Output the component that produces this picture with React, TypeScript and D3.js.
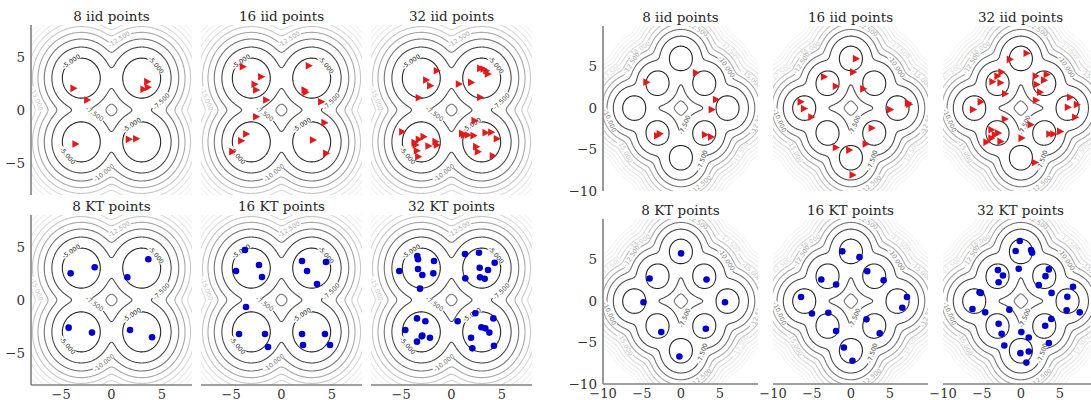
import React, { useMemo } from "react";
import * as d3 from "d3";

// unit-variance gaussian mixtures
const leftCenters: [number, number][] = [[-3, 3], [3, 3], [-3, -3], [3, -3]];
const rightCenters: [number, number][] = [
  [0, 6], [-3, 3], [3, 3], [-6, 0], [6, 0], [-3, -3], [3, -3], [0, -6],
];

const levels = [-5, -7.5, -10, -12.5, -15, -17.5, -20, -22.5, -25, -27.5];

const titles = ["8 iid points", "16 iid points", "32 iid points", "8 KT points", "16 KT points", "32 KT points"];

const leftTicks = [-5, 0, 5];
const rightTicks = [-10, -5, 0, 5];

type P = [number, number];

const leftIid8: P[] = [[-3.73, 2.04], [-2.37, 0.94], [3.6, 2.67], [3.66, 2.13], [3.23, 1.95], [-3.53, -3.2], [1.77, -2.76], [2.5, -2.7]];
const leftIid16: P[] = [
  [-3.8, 4.08], [-1.97, 3.13], [-2.63, 2.42], [-2.47, 1.88], [-1.47, 0.94], [-2.47, -0.63], [-3.46, -2.26], [-3.96, -2.89],
  [-4.85, -3.92], [2.76, 4.17], [2.34, 1.88], [2.44, 1.66], [3.99, 0.78], [4.32, -1.19], [3.18, -2.82], [4.49, -4.08],
];
const leftIid32: P[] = [
  [-1.41, 3.7], [-2.47, 2.82], [-2.07, 2.29], [-3.2, 1.16],
  [2.9, 3.92], [3.23, 3.86], [3.5, 3.7], [3.66, 3.39], [0.78, 2.45], [2.0, 2.6], [2.9, 1.19],
  [-4.85, -2.04], [-2.72, -2.51], [-3.2, -2.76], [-3.52, -3.29], [-2.24, -3.39], [-1.54, -2.98], [-1.41, -3.29],
  [-3.4, -3.83], [-3.26, -4.39], [-3.63, -3.07],
  [2.34, -1.0], [1.27, -2.35], [1.67, -2.35], [2.24, -2.41], [3.43, -2.13], [4.0, -2.1], [4.55, -2.7], [2.5, -3.45],
  [2.66, -3.92], [4.15, -4.3], [1.1, -2.2],
];
const leftKt8: P[] = [[-4.06, 2.51], [-1.67, 3.08], [3.66, 3.83], [1.57, 2.14], [-4.26, -2.6], [-1.94, -3.07], [1.84, -2.82], [4.03, -3.51]];
const leftKt16: P[] = [
  [-3.63, 4.71], [-4.52, 2.73], [-2.24, 3.29], [-1.94, 2.16],
  [2.04, 3.67], [2.54, 2.73], [4.42, 3.58], [3.53, 1.51],
  [-3.53, -0.66], [-4.22, -3.2], [-1.64, -3.2], [-1.34, -4.42],
  [2.04, -3.2], [4.32, -3.2], [2.14, -4.23], [4.82, -4.23],
];
const leftKt32: P[] = [
  [-3.4, 4.14], [-3.33, 3.83], [-1.74, 3.67], [-5.19, 2.73], [-3.33, 2.92], [-2.9, 2.35], [-1.81, 2.51], [-3.13, 1.07],
  [1.34, 4.33], [2.73, 4.45], [4.29, 3.51], [2.8, 3.04], [3.63, 2.82], [2.83, 2.13], [3.3, 2.0], [1.37, 2.04],
  [-3.43, -1.73], [-2.6, -2.0], [-4.59, -2.82], [-2.96, -3.42], [-2.14, -3.55], [-3.43, -3.92], [-2.9, -3.35],
  [2.37, -1.25], [0.61, -2.0], [4.16, -1.73], [2.97, -2.57], [3.36, -2.67], [3.76, -3.07], [1.94, -3.55], [4.22, -4.3], [2.07, -4.55],
];

const rightIid8: P[] = [[-4.36, 3.13], [2.0, 4.27], [4.58, 1.03], [4.02, -0.18], [-2.99, -3.33], [-2.65, -3.09], [3.16, -3.21], [3.94, -3.49]];
const rightIid16: P[] = [
  [0.71, 5.96], [0.36, 4.34], [-3.38, 3.78], [-1.87, 2.64], [1.65, 2.32], [-6.39, 0.75], [-5.96, -0.06], [-5.01, -1.07],
  [5.1, -0.18], [7.38, 0.63], [7.55, 0.45], [2.74, -2.4], [1.96, -4.34], [-1.87, -4.75], [-0.15, -5.07], [0.28, -8.06],
];
const rightIid32: P[] = [
  [0.8, 6.61], [-1.35, 5.88], [-2.43, 4.34], [-2.95, 3.86], [-3.59, 3.17], [-2.56, 3.05], [-1.96, 1.72],
  [1.96, 3.86], [3.38, 4.06], [3.03, 3.37], [2.09, 2.85], [2.52, 1.92], [2.0, 0.95],
  [-5.1, 0.75], [-6.09, -0.18],
  [6.39, 1.31], [7.25, 0.42], [6.09, 0.1], [7.03, -1.11],
  [-2.0, -1.31], [1.31, -2.0],
  [-3.72, -2.61], [-2.86, -3.01], [-3.29, -3.21], [-3.72, -3.62], [-2.56, -4.02], [-4.36, -4.1],
  [0.15, -3.62], [3.72, -3.13], [4.23, -3.13], [5.1, -2.81], [1.87, -6.57],
];
const rightKt8: P[] = [[0.02, 5.76], [-4.02, 2.73], [3.29, 2.61], [-4.8, -0.14], [5.66, -0.14], [-2.52, -3.74], [3.2, -3.33], [-0.19, -6.69]];
const rightKt16: P[] = [
  [-1.1, 6.0], [1.1, 5.3], [-3.8, 2.6], [-1.9, 2.0], [2.1, 3.6], [4.2, 2.5], [-6.4, 0.5], [7.2, 0.5],
  [-5.0, -1.5], [6.6, -0.8], [-2.9, -1.4], [-1.9, -3.6], [2.0, -2.2], [3.7, -3.9], [0.2, -7.2], [-0.9, -5.6],
];
const rightKt32: P[] = [
  [-0.15, 7.25], [-0.67, 6.04], [1.31, 6.16], [1.44, 5.84], [-0.28, 3.9], [-2.95, 3.74], [-2.3, 3.09], [-2.86, 2.28],
  [3.59, 3.82], [3.16, 3.01], [2.3, 1.92], [3.94, 0.99], [6.69, 1.72], [-5.31, 1.07], [-5.14, 0.99], [5.96, 0.51],
  [-6.22, -0.95], [-4.58, -1.36], [-1.48, -1.03], [5.87, -1.11], [7.55, -1.36], [-2.86, -2.73], [-2.47, -3.94], [3.9, -2.16],
  [3.12, -2.97], [0.06, -3.74], [1.01, -4.39], [3.59, -5.07], [-2.13, -5.35], [-0.06, -6.28], [1.01, -6.08], [0.71, -7.42],
];

// rough spots where clabel put its labels (snapped to the nearest contour)
const leftLabels = [
  { level: -12.5, x: 0.6, y: 6.9 },
  { level: -15, x: -7.3, y: 1.1 },
  { level: -5, x: -4.1, y: 4.7 },
  { level: -5, x: 4.4, y: 4.2 },
  { level: -7.5, x: 4.9, y: 0.9 },
  { level: -7.5, x: -1.65, y: -0.3 },
  { level: -5, x: 2.0, y: -1.4 },
  { level: -5, x: -4.3, y: -4.2 },
  { level: -10, x: -0.85, y: -5.8 },
];
const rightLabels = [
  { level: -7.5, x: 0.0, y: -1.8 },
  { level: -7.5, x: 2.5, y: -6.2 },
  { level: -10, x: 6.0, y: 5.1 },
  { level: -10, x: -9.1, y: -1.5 },
  { level: -12.5, x: -6.5, y: 5.5 },
  { level: -12.5, x: 2.1, y: 9.6 },
  { level: -12.5, x: 9.5, y: -1.6 },
  { level: -12.5, x: 2.7, y: -9.3 },
  { level: -15, x: -5.2, y: 6.9 },
  { level: -15, x: 9.0, y: 3.5 },
  { level: -15, x: -6.7, y: -5.0 },
  { level: -17.5, x: 6.2, y: 6.9 },
  { level: -17.5, x: 7.7, y: -5.4 },
  { level: -17.5, x: -9.05, y: 4.2 },
];

const grey = d3
  .scaleLinear<string>()
  .domain([-5, -7.5, -10, -12.5, -15, -17.5, -20, -22.5, -27.5])
  .range(["#262626", "#4a4a4a", "#767676", "#a8a8a8", "#c6c6c6", "#dadada", "#e6e6e6", "#eeeeee", "#f6f6f6"])
  .clamp(true);

const serif = "DejaVu Serif, serif";
const sans = "DejaVu Sans, sans-serif";

function logDensity(x: number, y: number, centers: P[]) {
  let m = -Infinity;
  const e = centers.map(([cx, cy]) => {
    const v = -((x - cx) ** 2 + (y - cy) ** 2) / 2;
    if (v > m) m = v;
    return v;
  });
  let s = 0;
  for (const v of e) s += Math.exp(v - m);
  return m + Math.log(s / centers.length) - Math.log(2 * Math.PI);
}

function contourRings(centers: P[], lo: number, hi: number, n: number) {
  const h = (hi - lo) / (n - 1);
  const values: number[] = new Array(n * n);
  for (let j = 0; j < n; j++)
    for (let i = 0; i < n; i++) values[j * n + i] = logDensity(lo + i * h, lo + j * h, centers);
  const gen = d3.contours().size([n, n]);
  return levels.map((level) => {
    const mp = gen.contour(values, level);
    const rings: P[][] = [];
    mp.coordinates.forEach((poly) =>
      poly.forEach((ring) => rings.push(ring.map(([cx, cy]) => [lo + (cx - 0.5) * h, lo + (cy - 0.5) * h] as P)))
    );
    return { level, rings };
  });
}

const groups = [
  {
    key: "l", centers: leftCenters, domain: [-8, 8], n: 260,
    lefts: [31, 201, 371], width: 161, tops: [25, 215], height: 170,
    ticks: leftTicks, labels: leftLabels,
    points: [leftIid8, leftIid16, leftIid32, leftKt8, leftKt16, leftKt32],
  },
  {
    key: "r", centers: rightCenters, domain: [-10, 9.9], n: 300,
    lefts: [603, 773, 943], width: 155, tops: [26, 219], height: 165,
    ticks: rightTicks, labels: rightLabels,
    points: [rightIid8, rightIid16, rightIid32, rightKt8, rightKt16, rightKt32],
  },
];

const fmt = (v: number) => (v < 0 ? "\u2212" : "") + Math.abs(v);

function Group({ g }: { g: (typeof groups)[number] }) {
  const { x, y, paths, labels } = useMemo(() => {
    const x = d3.scaleLinear().domain(g.domain).range([0, g.width]);
    const y = d3.scaleLinear().domain(g.domain).range([g.height, 0]);
    const cs = contourRings(g.centers, g.domain[0] - 1.2, g.domain[1] + 1.2, g.n);
    const line = d3.line<P>().x((p) => x(p[0])).y((p) => y(p[1]));
    const paths = cs.map((c) => ({ level: c.level, d: c.rings.map((r) => line(r) + "Z").join("") }));

    const labels = g.labels.map((s) => {
      const c = cs.find((c) => c.level === s.level)!;
      const tx = x(s.x), ty = y(s.y);
      let bd = Infinity, br: P[] = c.rings[0], bi = 0;
      c.rings.forEach((ring) =>
        ring.forEach((p, i) => {
          const d = (x(p[0]) - tx) ** 2 + (y(p[1]) - ty) ** 2;
          if (d < bd) { bd = d; br = ring; bi = i; }
        })
      );
      const L = br.length, k = 5;
      const a = br[(bi - k + L) % L], b = br[(bi + k) % L];
      let ang = (Math.atan2(y(b[1]) - y(a[1]), x(b[0]) - x(a[0])) * 180) / Math.PI;
      if (ang > 90) ang -= 180;
      if (ang <= -90) ang += 180;
      const text = s.level.toFixed(3);
      return { level: s.level, px: x(br[bi][0]), py: y(br[bi][1]), ang, text, w: text.length * 3.7 };
    });
    return { x, y, paths, labels };
  }, [g]);

  const tri = "M3.6,0L-3.6,3.8L-3.6,-3.8Z";

  return (
    <g>
      {titles.map((title, idx) => {
        const col = idx % 3, row = Math.floor(idx / 3);
        const left = g.lefts[col], top = g.tops[row];
        const id = `${g.key}${idx}`;
        const pts = g.points[idx];
        return (
          <g key={id} transform={`translate(${left},${top})`}>
            <defs>
              <clipPath id={`clip-${id}`}>
                <rect width={g.width} height={g.height} />
              </clipPath>
              {paths.map((p, li) =>
                labels.some((l) => l.level === p.level) ? (
                  <mask key={li} id={`m-${id}-${li}`} maskUnits="userSpaceOnUse" x={-20} y={-20} width={g.width + 40} height={g.height + 40}>
                    <rect x={-20} y={-20} width={g.width + 40} height={g.height + 40} fill="white" />
                    {labels
                      .filter((l) => l.level === p.level)
                      .map((l, j) => (
                        <rect key={j} x={-l.w / 2} y={-2.6} width={l.w} height={5.2} fill="black"
                          transform={`translate(${l.px},${l.py}) rotate(${l.ang})`} />
                      ))}
                  </mask>
                ) : null
              )}
            </defs>
            <g clipPath={`url(#clip-${id})`}>
              {paths.map((p, li) => (
                <path key={li} d={p.d} fill="none" stroke={grey(p.level)} strokeWidth={1.1}
                  mask={labels.some((l) => l.level === p.level) ? `url(#m-${id}-${li})` : undefined} />
              ))}
              {labels.map((l, j) => (
                <text key={j} transform={`translate(${l.px},${l.py}) rotate(${l.ang})`} textAnchor="middle"
                  dy="0.35em" fontSize={6.3} fontFamily={sans} fill={grey(l.level)}>
                  {l.text}
                </text>
              ))}
            </g>
            {pts.map((p, j) =>
              row === 0 ? (
                <path key={j} d={tri} transform={`translate(${x(p[0])},${y(p[1])})`} fill="#e31a1c" />
              ) : (
                <circle key={j} cx={x(p[0])} cy={y(p[1])} r={3.3} fill="#0000cd" />
              )
            )}
            <text x={g.width / 2} y={-4} textAnchor="middle" fontSize={13.5} fontFamily={serif} fill="#262626">
              {title}
            </text>
            {col === 0 && (
              <g>
                <line x1={0} x2={0} y1={0} y2={g.height} stroke="#808080" strokeWidth={1.6} />
                {g.ticks.map((t) => (
                  <text key={t} x={-6} y={y(t)} dy="0.36em" textAnchor="end" fontSize={13.5} fontFamily={serif} fill="#333">
                    {fmt(t)}
                  </text>
                ))}
              </g>
            )}
            {row === 1 && (
              <g>
                <line x1={0} x2={g.width} y1={g.height} y2={g.height} stroke="#808080" strokeWidth={1.6} />
                {g.ticks.map((t) => (
                  <text key={t} x={x(t)} y={g.height + 13.5} textAnchor="middle" fontSize={13} fontFamily={serif} fill="#333">
                    {fmt(t)}
                  </text>
                ))}
              </g>
            )}
          </g>
        );
      })}
    </g>
  );
}

export default function App() {
  return (
    <svg width={1091} height={400} style={{ position: "absolute", left: 0, top: 0, background: "#fff" }}>
      {groups.map((g) => (
        <Group key={g.key} g={g} />
      ))}
    </svg>
  );
}
